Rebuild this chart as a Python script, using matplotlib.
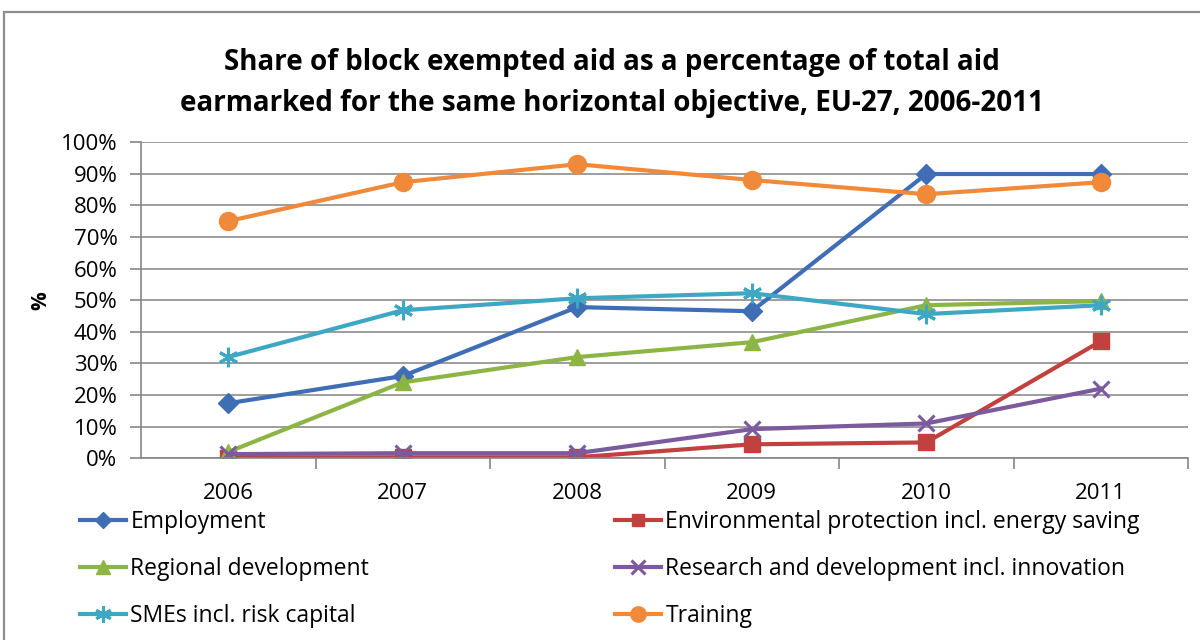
import matplotlib.pyplot as plt
from matplotlib.patches import Rectangle
from matplotlib.ticker import PercentFormatter

plt.rcParams['font.family'] = ['Open Sans', 'DejaVu Sans']

years = ['2006', '2007', '2008', '2009', '2010', '2011']

employment = [17.4, 26.0, 47.8, 46.5, 89.9, 89.9]
environment = [0.2, 0.3, 0.3, 4.4, 5.0, 37.0]
regional = [2.0, 24.0, 32.0, 36.7, 48.4, 49.7]
research = [1.3, 1.6, 1.6, 9.2, 11.0, 22.0]
smes = [32.0, 46.8, 50.6, 52.2, 45.6, 48.4]
training = [75.0, 87.3, 93.0, 88.0, 83.5, 87.3]

series = [
    ('Employment', employment, '#3F6EB5', 'D', 10),
    ('Environmental protection incl. energy saving', environment, '#C0413E', 's', 11),
    ('Regional development', regional, '#8DB545', '^', 12),
    ('Research and development incl. innovation', research, '#7B5A9E', 'x', 12),
    ('SMEs incl. risk capital', smes, '#3EA8C4', (6, 2, 0), 14),
    ('Training', training, '#F08A3A', 'o', 13),
]

fig = plt.figure(figsize=(12, 6.4), dpi=100)
ax = fig.add_axes([0.1175, 0.284, 0.8725, 0.494])

x = list(range(len(years)))
handles = []
for name, vals, col, mk, ms in series:
    mew = 2.2 if mk in ('x', (6, 2, 0)) else 1
    h, = ax.plot(x, vals, color=col, lw=3, marker=mk, markersize=ms,
                 markeredgewidth=mew, markeredgecolor=col, markerfacecolor=col,
                 label=name)
    handles.append(h)

ax.set_xlim(-0.5, len(years) - 0.5)
ax.set_ylim(0, 100)
ax.set_yticks(range(0, 101, 10))
ax.yaxis.set_major_formatter(PercentFormatter(decimals=0))
ax.set_xticks(x)
ax.set_xticklabels(years)
ax.set_xticks([i - 0.5 for i in range(1, len(years) + 1)], minor=True)
ax.tick_params(axis='x', which='major', length=0, pad=18, labelsize=16)
ax.tick_params(axis='x', which='minor', length=8, color='#868686', width=1.2)
ax.tick_params(axis='y', length=8, color='#868686', width=1.2, labelsize=16, pad=9)

ax.yaxis.grid(True, color='#8C8C8C', lw=1.2)
ax.set_axisbelow(True)
for s in ('top', 'right'):
    ax.spines[s].set_visible(False)
for s in ('left', 'bottom'):
    ax.spines[s].set_color('#868686')
    ax.spines[s].set_linewidth(1.2)

ax.set_ylabel('%', fontsize=15, fontweight='bold', labelpad=7)

fig.text(0.51, 0.925,
         'Share of block exempted aid as a percentage of total aid\n'
         'earmarked for the same horizontal objective, EU-27, 2006-2011',
         ha='center', va='top', fontsize=20, fontweight='bold',
         linespacing=1.55)

# legend: two columns of three entries below the plot
left = [0, 2, 4]
right = [1, 3, 5]
for idx, xpos in ((left, 80 / 1200), (right, 615 / 1200)):
    fig.legend([handles[i] for i in idx], [series[i][0] for i in idx],
               loc='upper left', bbox_to_anchor=(xpos, 1 - 510 / 640),
               frameon=False, fontsize=16.5, handlelength=2.0,
               handletextpad=0.2, labelspacing=1.0, borderpad=0,
               borderaxespad=0, markerscale=0.85)

fig.patches.append(Rectangle((4 / 1200, -0.05), 1.2, 1 - 12 / 640 + 0.05,
                             transform=fig.transFigure, fill=False,
                             edgecolor='#8C8C8C', lw=1.6))

fig.savefig('out.png', dpi=100)
